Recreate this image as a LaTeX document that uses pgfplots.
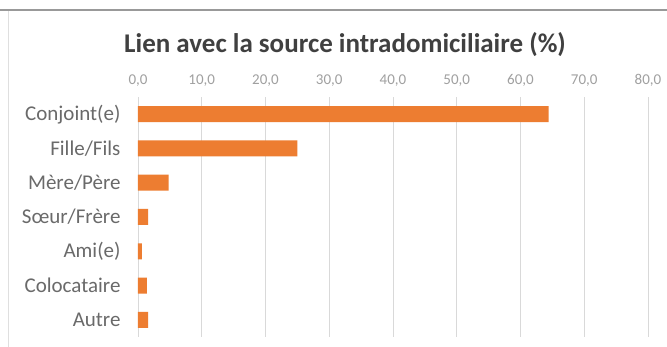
\documentclass[border=0pt]{standalone}
\usepackage{pgfplots}
\pgfplotsset{compat=1.18}
\usepackage{fontspec}
\setmainfont{Carlito}
\definecolor{barorange}{HTML}{ED7D31}
\definecolor{gridgray}{HTML}{D9D9D9}
\definecolor{labgray}{HTML}{6A6A6A}
\definecolor{tickgray}{HTML}{A0A0A0}
\definecolor{titlegray}{HTML}{404040}
\begin{document}
\begin{tikzpicture}[x=1pt,y=1pt]
\useasboundingbox (-138,-10) rectangle (529,337);
\fill[white] (-138,-10) rectangle (529,337);
\draw[gray!80, line width=1.5pt] (-138,327) -- (529,327);
\draw[gray!25, line width=0.6pt] (-130,-10) -- (-130,326);
\begin{axis}[
  at={(0,0)}, anchor=south west,
  scale only axis,
  width=510pt, height=240pt,
  xbar, bar width=16pt,
  xmin=0, xmax=80,
  ymin=-0.5, ymax=6.5,
  y dir=reverse,
  ytick={0,1,2,3,4,5,6},
  yticklabels={Conjoint(e),Fille/Fils,Mère/Père,Sœur/Frère,Ami(e),Colocataire,Autre},
  xtick={0,10,...,80},
  xticklabel pos=upper,
  xmajorgrids, grid style={gridgray, line width=0.8pt},
  axis line style={draw=none},
  major tick length=0pt,
  tick style={draw=none},
  /pgf/number format/assume math mode=true,
  xticklabel style={/pgf/number format/.cd, fixed, fixed zerofill, precision=1, use comma, /tikz/.cd, font=\fontsize{15}{17}\selectfont, text=tickgray},
  yticklabel style={font=\fontsize{21}{24}\selectfont, text=labgray},
  xticklabel shift=7pt,
  yticklabel shift=14pt,
  clip=false,
]
\addplot[fill=barorange, draw=none] coordinates {
  (64.4,0) (25.0,1) (4.8,2) (1.6,3) (0.6,4) (1.4,5) (1.6,6)
};
\end{axis}
\node[text=titlegray, font=\fontsize{27}{32}\selectfont\bfseries] at (207,292) {Lien avec la source intradomiciliaire (\%)};
\end{tikzpicture}
\end{document}
